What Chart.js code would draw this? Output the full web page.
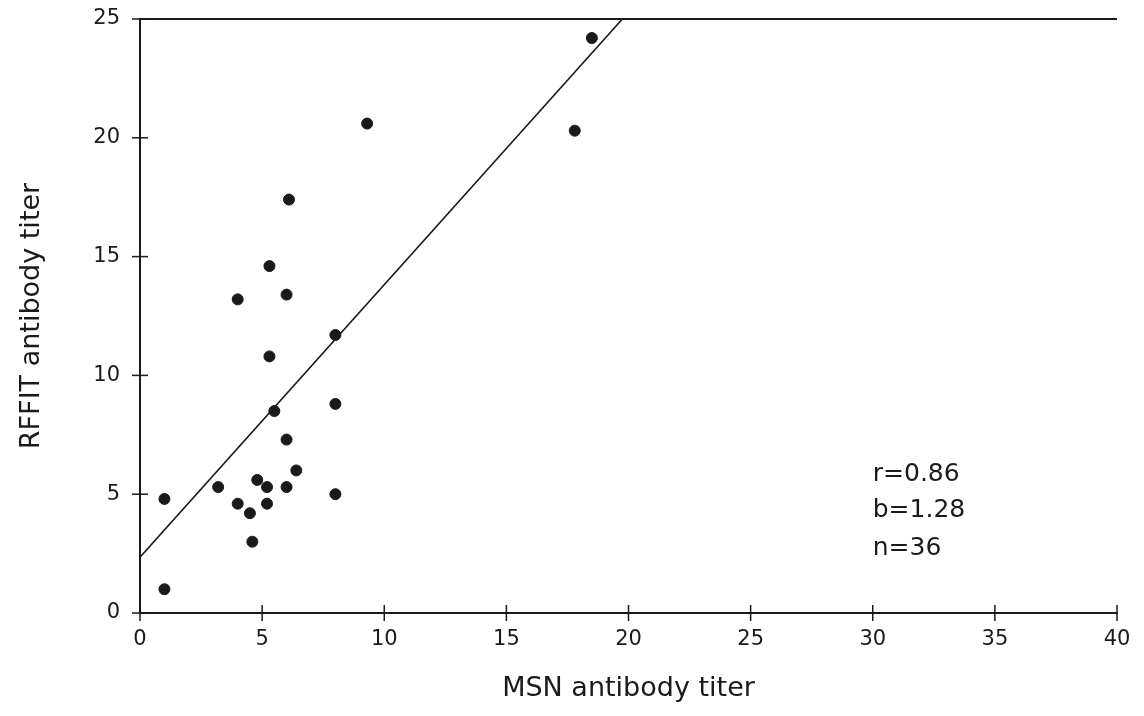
<!DOCTYPE html>
<html>
<head>
<meta charset="utf-8">
<script src="https://cdn.jsdelivr.net/npm/chart.js@4/dist/chart.umd.min.js"></script>
<style>
  html, body { margin: 0; padding: 0; background: #fff; }
  #wrap { width: 1144px; height: 716px; }
</style>
</head>
<body>
<div id="wrap"><canvas id="scatter"></canvas></div>
<script>
// --- data ---
const msnTiter   = [1.0, 1.0, 3.2, 4.0, 4.0, 4.5, 4.6, 4.8, 5.2, 5.2, 5.3, 5.3, 5.5, 6.0, 6.0, 6.0, 6.1, 6.4, 8.0, 8.0, 8.0, 9.3, 17.8, 18.5];
const rffitTiter = [1.0, 4.8, 5.3, 4.6, 13.2, 4.2, 3.0, 5.6, 5.3, 4.6, 14.6, 10.8, 8.5, 13.4, 7.3, 5.3, 17.4, 6.0, 11.7, 8.8, 5.0, 20.6, 20.3, 24.2];

const fitX = [0, 19.75];
const fitY = [2.35, 25];

const xTicks = [0, 5, 10, 15, 20, 25, 30, 35, 40];
const yTicks = [0, 5, 10, 15, 20, 25];

const statLines = ["r=0.86", "b=1.28", "n=36"];
const statY     = [5.85, 4.3, 2.72];   // anchors in y units
const statX     = 30;

const FONT = "'DejaVu Sans', sans-serif";
const INK  = "#1a1a1a";

// crossing tick marks, top frame line and the stats note
const framePlugin = {
    id: "frame",
    afterDraw(chart) {
        const { ctx, chartArea, scales } = chart;
        const xs = scales.x, ys = scales.y;
        ctx.save();
        ctx.strokeStyle = INK;
        ctx.lineWidth = 2;

        ctx.beginPath();
        ctx.moveTo(chartArea.left, chartArea.top);
        ctx.lineTo(chartArea.right, chartArea.top);
        ctx.stroke();

        ctx.lineWidth = 1.5;
        xTicks.forEach(v => {
            const px = xs.getPixelForValue(v);
            ctx.beginPath();
            ctx.moveTo(px, chartArea.bottom - 8);
            ctx.lineTo(px, chartArea.bottom + 8);
            ctx.stroke();
        });
        yTicks.forEach(v => {
            const py = ys.getPixelForValue(v);
            ctx.beginPath();
            ctx.moveTo(chartArea.left - 8, py);
            ctx.lineTo(chartArea.left + 8, py);
            ctx.stroke();
        });

        ctx.fillStyle = INK;
        ctx.font = "25px " + FONT;
        ctx.textBaseline = "middle";
        ctx.textAlign = "left";
        statLines.forEach((t, i) => {
            ctx.fillText(t, xs.getPixelForValue(statX), ys.getPixelForValue(statY[i]));
        });
        ctx.restore();
    }
};

new Chart(document.getElementById("scatter"), {
    type: "scatter",
    data: {
        datasets: [
            {
                label: "Titers",
                data: msnTiter.map((x, i) => ({ x: x, y: rffitTiter[i] })),
                backgroundColor: INK,
                borderColor: INK,
                pointRadius: 5.5,
                pointHoverRadius: 5.5
            },
            {
                type: "line",
                label: "Fit",
                data: fitX.map((x, i) => ({ x: x, y: fitY[i] })),
                borderColor: INK,
                borderWidth: 1.6,
                pointRadius: 0,
                fill: false,
                tension: 0
            }
        ]
    },
    options: {
        responsive: true,
        maintainAspectRatio: false,
        animation: false,
        layout: { padding: { top: 19, right: 27, left: 0, bottom: 0 } },
        plugins: {
            legend: { display: false },
            tooltip: { enabled: false }
        },
        scales: {
            x: {
                type: "linear",
                min: 0, max: 40,
                afterFit: s => { s.height = 103; s.paddingRight = 0; s.paddingLeft = 0; },
                afterBuildTicks: s => { s.ticks = xTicks.map(v => ({ value: v })); },
                border: { display: true, color: INK, width: 2 },
                grid: { display: false, drawTicks: false },
                ticks: { color: INK, padding: 14, font: { family: FONT, size: 21 } },
                title: {
                    display: true,
                    text: "MSN antibody titer",
                    color: INK,
                    padding: { top: 10, bottom: 11 },
                    font: { family: FONT, size: 27 }
                }
            },
            y: {
                type: "linear",
                min: 0, max: 25,
                afterFit: s => { s.width = 140; s.paddingTop = 0; s.paddingBottom = 0; },
                afterBuildTicks: s => { s.ticks = yTicks.map(v => ({ value: v })); },
                border: { display: true, color: INK, width: 2 },
                grid: { display: false, drawTicks: false },
                ticks: { color: INK, padding: 20, font: { family: FONT, size: 21 } },
                title: {
                    display: true,
                    text: "RFFIT antibody titer",
                    color: INK,
                    padding: { top: 16, bottom: 10 },
                    font: { family: FONT, size: 27 }
                }
            }
        }
    },
    plugins: [framePlugin]
});
</script>
</body>
</html>
